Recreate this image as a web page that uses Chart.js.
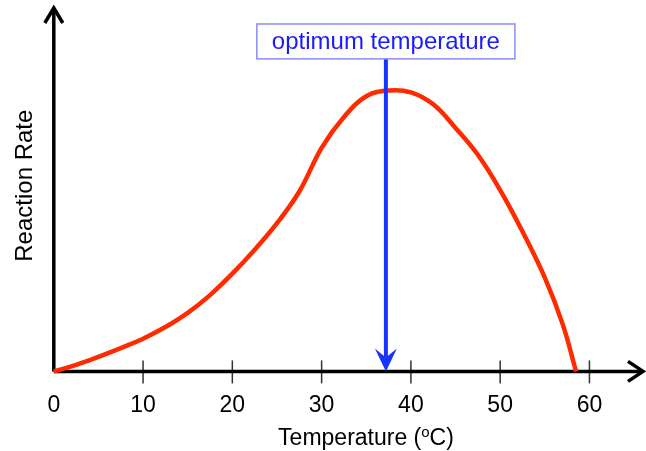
<!DOCTYPE html>
<html>
<head>
<meta charset="utf-8">
<script src="https://cdn.jsdelivr.net/npm/chart.js@4"></script>
<style>
  html, body { margin: 0; padding: 0; background: #fff; }
  #wrap { width: 646px; height: 451px; }
</style>
</head>
<body>
<div id="wrap"><canvas id="rateChart"></canvas></div>
<script>
// values (rate in arbitrary units, 0 at the x axis)
const temperatures = [0, 2.5, 5, 7.5, 10, 12.5, 15, 17.5, 20, 22.5, 25, 27.5, 30, 32.5,
    35, 37.5, 40, 42.5, 45, 47.5, 50, 52.5, 55, 57, 58.5];
const reactionRates = [0, 1.8, 4.0, 6.4, 9.0, 12.2, 16.1, 21.0, 26.9, 33.5, 40.8, 49.5, 61.5, 70.0,
    75.7, 77.3, 76.8, 73.5, 67.0, 59.6, 49.9, 38.5, 25.8, 13.0, 0];
const xTickValues = [0, 10, 20, 30, 40, 50, 60];

const optimumTemp = 37.2;
const optimumText = 'optimum temperature';
const boxTopRate = 95.6;
const boxBottomRate = 86.0;
const yAxisTop = 100;
const xAxisEnd = 66;

const FONT = '"Liberation Sans", Arial, Helvetica, sans-serif';

const points = temperatures.map((t, i) => ({ x: t, y: reactionRates[i] }));

function chevron(ctx, tipX, tipY, ax, ay, bx, by) {
    ctx.beginPath();
    ctx.moveTo(ax, ay);
    ctx.lineTo(tipX, tipY);
    ctx.lineTo(bx, by);
    ctx.stroke();
}

const axesPlugin = {
    id: 'arrowAxes',
    beforeDatasetsDraw(chart) {
        const ctx = chart.ctx;
        const x = chart.scales.x;
        const y = chart.scales.y;
        const x0 = x.getPixelForValue(0);
        const y0 = y.getPixelForValue(0);
        const xEnd = x.getPixelForValue(xAxisEnd);
        const yEnd = y.getPixelForValue(yAxisTop);

        ctx.save();
        // tick marks
        ctx.strokeStyle = '#333';
        ctx.lineWidth = 1.5;
        xTickValues.slice(1).forEach((v) => {
            const px = x.getPixelForValue(v);
            ctx.beginPath();
            ctx.moveTo(px, y0 - 11);
            ctx.lineTo(px, y0 + 12);
            ctx.stroke();
        });

        ctx.strokeStyle = '#000';
        ctx.lineWidth = 3.5;
        ctx.lineCap = 'butt';
        ctx.beginPath();
        ctx.moveTo(x0, y0);
        ctx.lineTo(xEnd - 2, y0);
        ctx.moveTo(x0, y0);
        ctx.lineTo(x0, yEnd + 2);
        ctx.stroke();

        ctx.lineJoin = 'miter';
        chevron(ctx, xEnd, y0, xEnd - 15, y0 - 10, xEnd - 15, y0 + 10);
        chevron(ctx, x0, yEnd, x0 - 9, yEnd + 15, x0 + 9, yEnd + 15);

        // x title with superscript o
        ctx.fillStyle = '#000';
        ctx.textBaseline = 'alphabetic';
        const main = 'Temperature (';
        const tail = 'C)';
        ctx.font = '15px ' + FONT;
        const supW = ctx.measureText('o').width;
        ctx.font = '23px ' + FONT;
        const w1 = ctx.measureText(main).width;
        const w2 = ctx.measureText(tail).width;
        const total = w1 + supW + w2;
        let tx = 366 - total / 2;
        const base = 445;
        ctx.textAlign = 'left';
        ctx.fillText(main, tx, base);
        tx += w1;
        ctx.font = '15px ' + FONT;
        ctx.fillText('o', tx, base - 8);
        tx += supW;
        ctx.font = '23px ' + FONT;
        ctx.fillText(tail, tx, base);
        ctx.restore();
    },
    afterDatasetsDraw(chart) {
        const ctx = chart.ctx;
        const x = chart.scales.x;
        const y = chart.scales.y;
        const px = x.getPixelForValue(optimumTemp);
        const y0 = y.getPixelForValue(0);
        const boxTop = y.getPixelForValue(boxTopRate);
        const boxBottom = y.getPixelForValue(boxBottomRate);

        ctx.save();
        ctx.font = '24px ' + FONT;
        const tw = ctx.measureText(optimumText).width;
        const boxW = tw + 30;

        // arrow shaft
        ctx.strokeStyle = '#1535ff';
        ctx.lineWidth = 4;
        ctx.beginPath();
        ctx.moveTo(px, boxBottom);
        ctx.lineTo(px, y0 - 14);
        ctx.stroke();
        // arrow head
        ctx.fillStyle = '#1535ff';
        ctx.beginPath();
        ctx.moveTo(px, y0);
        ctx.lineTo(px - 11, y0 - 23);
        ctx.lineTo(px, y0 - 14);
        ctx.lineTo(px + 11, y0 - 23);
        ctx.closePath();
        ctx.fill();

        // label box
        ctx.fillStyle = '#fff';
        ctx.fillRect(px - boxW / 2, boxTop, boxW, boxBottom - boxTop);
        ctx.strokeStyle = '#8b8bff';
        ctx.lineWidth = 1.5;
        ctx.strokeRect(px - boxW / 2, boxTop, boxW, boxBottom - boxTop);

        ctx.fillStyle = '#1a1aff';
        ctx.textAlign = 'center';
        ctx.textBaseline = 'middle';
        ctx.fillText(optimumText, px, (boxTop + boxBottom) / 2 + 1);
        ctx.restore();
    }
};

new Chart(document.getElementById('rateChart'), {
    type: 'line',
    data: {
        datasets: [{
            label: 'Reaction Rate',
            data: points,
            borderColor: '#ff2a00',
            borderWidth: 4.5,
            pointRadius: 0,
            fill: false,
            tension: 0.4,
            clip: false
        }]
    },
    options: {
        responsive: true,
        maintainAspectRatio: false,
        animation: false,
        events: [],
        layout: { padding: { left: 0, right: 3, top: 0, bottom: 12 } },
        plugins: {
            legend: { display: false },
            tooltip: { enabled: false }
        },
        scales: {
            x: {
                type: 'linear',
                min: 0,
                max: xAxisEnd,
                afterBuildTicks: (scale) => {
                    scale.ticks = xTickValues.map((v) => ({ value: v }));
                },
                grid: { display: false, drawTicks: false },
                border: { display: false },
                ticks: {
                    color: '#000',
                    padding: 20,
                    maxRotation: 0,
                    font: { family: FONT, size: 23 }
                }
            },
            y: {
                type: 'linear',
                min: 0,
                max: 102.2,
                grid: { display: false, drawTicks: false },
                border: { display: false },
                ticks: { display: false },
                title: {
                    display: true,
                    text: 'Reaction Rate',
                    color: '#000',
                    font: { family: FONT, size: 24 },
                    padding: { top: 11, bottom: 14 }
                }
            }
        }
    },
    plugins: [axesPlugin]
});
</script>
</body>
</html>
